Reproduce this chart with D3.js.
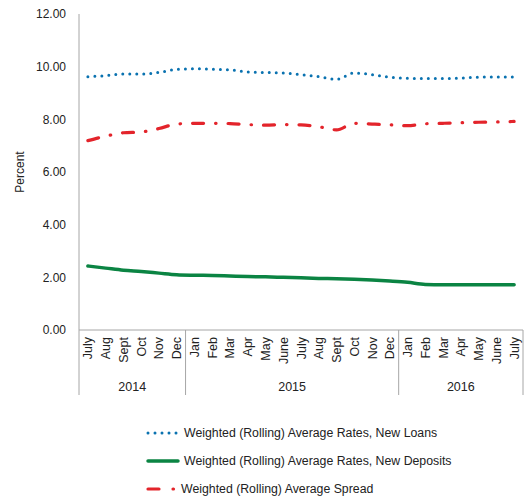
<!DOCTYPE html>
<html>
<head>
<meta charset="utf-8">
<script src="https://cdn.jsdelivr.net/npm/d3@7"></script>
<style>
body { margin: 0; background: #fff; }
svg text { font-family: "Liberation Sans", Arial, sans-serif; fill: #222; }
</style>
</head>
<body>
<svg id="chart" width="525" height="502"></svg>
<script>
const months = ["July","Aug","Sept","Oct","Nov","Dec",
  "Jan","Feb","Mar","Apr","May","June","July","Aug","Sept","Oct","Nov","Dec",
  "Jan","Feb","Mar","Apr","May","June","July"];
const years = [
  { label: "2014", start: 0, end: 6 },
  { label: "2015", start: 6, end: 18 },
  { label: "2016", start: 18, end: 25 }
];
const loans = [9.62, 9.66, 9.72, 9.72, 9.78, 9.9, 9.92, 9.9, 9.88, 9.8, 9.78, 9.76, 9.7,
  9.62, 9.52, 9.76, 9.7, 9.6, 9.56, 9.55, 9.55, 9.57, 9.6, 9.61, 9.61];
const deposits = [2.43, 2.35, 2.27, 2.22, 2.16, 2.1, 2.08, 2.07, 2.05, 2.03, 2.02, 2.0, 1.98,
  1.96, 1.95, 1.93, 1.9, 1.86, 1.81, 1.73, 1.72, 1.72, 1.72, 1.72, 1.72];
const spread = [7.19, 7.36, 7.49, 7.52, 7.65, 7.82, 7.85, 7.85, 7.84, 7.8, 7.78, 7.8, 7.79,
  7.72, 7.6, 7.85, 7.82, 7.79, 7.76, 7.83, 7.85, 7.87, 7.89, 7.9, 7.92];
const yTicks = [0, 2, 4, 6, 8, 10, 12];

const svg = d3.select("#chart");
const margin = { top: 14, left: 79, right: 2, bottom: 172 };
const width = 525, height = 502;
const axisGrey = "#a6a6a6";

const x = d3.scaleBand()
  .domain(d3.range(months.length))
  .range([margin.left, width - margin.right]);

const y = d3.scaleLinear()
  .domain([0, 12])
  .range([height - margin.bottom, margin.top]);

const baseY = y(0);

// y labels
svg.append("g")
  .selectAll("text")
  .data(yTicks)
  .join("text")
  .attr("x", margin.left - 13)
  .attr("y", d => y(d))
  .attr("dy", "0.35em")
  .attr("text-anchor", "end")
  .style("font-size", "12px")
  .text(d => d3.format(".2f")(d));

svg.append("text")
  .attr("transform", `translate(24,${(y(12) + baseY) / 2}) rotate(-90)`)
  .attr("text-anchor", "middle")
  .style("font-size", "12px")
  .text("Percent");

// axes lines
const axisBottom = baseY + 65;
svg.append("line")
  .attr("x1", margin.left).attr("x2", margin.left)
  .attr("y1", y(12)).attr("y2", axisBottom)
  .attr("stroke", axisGrey);
svg.append("line")
  .attr("x1", margin.left).attr("x2", width - margin.right)
  .attr("y1", baseY).attr("y2", baseY)
  .attr("stroke", axisGrey);

// year separators
svg.append("g")
  .selectAll("line")
  .data(years)
  .join("line")
  .attr("x1", d => x(d.end - 1) + x.bandwidth())
  .attr("x2", d => x(d.end - 1) + x.bandwidth())
  .attr("y1", baseY).attr("y2", axisBottom)
  .attr("stroke", axisGrey);

// month labels
svg.append("g")
  .selectAll("text")
  .data(months)
  .join("text")
  .attr("transform", (d, i) => `translate(${x(i) + x.bandwidth() / 2 + 4.5},${baseY + 7}) rotate(-90)`)
  .attr("text-anchor", "end")
  .style("font-size", "12.5px")
  .text(d => d);

// year labels
svg.append("g")
  .selectAll("text")
  .data(years)
  .join("text")
  .attr("x", d => (x(d.start) + x(d.end - 1) + x.bandwidth()) / 2)
  .attr("y", baseY + 61)
  .attr("text-anchor", "middle")
  .style("font-size", "12.5px")
  .text(d => d.label);

const line = d3.line()
  .x((d, i) => x(i) + x.bandwidth() / 2)
  .y(d => y(d))
  .curve(d3.curveMonotoneX);

const series = [
  { name: "Weighted (Rolling) Average Rates, New Loans", data: loans, color: "#0a72b0", width: 3, dash: "0,7" },
  { name: "Weighted (Rolling) Average Rates, New Deposits", data: deposits, color: "#0b8443", width: 3.5, dash: null },
  { name: "Weighted (Rolling) Average Spread", data: spread, color: "#e3242b", width: 3.2, dash: "11,12,0.5,12" }
];

series.forEach(s => {
  svg.append("path")
    .datum(s.data)
    .attr("fill", "none")
    .attr("stroke", s.color)
    .attr("stroke-width", s.width)
    .attr("stroke-linecap", "round")
    .attr("stroke-dasharray", s.dash)
    .attr("d", line);
});

// legend
const legend = svg.append("g")
  .selectAll("g")
  .data(series)
  .join("g")
  .attr("transform", (d, i) => `translate(147,${433 + i * 28})`);

legend.append("line")
  .attr("x1", 1).attr("x2", (d, i) => i === 2 ? 32 : 31)
  .attr("y1", 0).attr("y2", 0)
  .attr("stroke", d => d.color)
  .attr("stroke-width", d => d.width)
  .attr("stroke-linecap", "round")
  .attr("stroke-dasharray", (d, i) => i === 0 ? "0,7" : i === 2 ? "11,14,0.5,20" : null);

legend.append("text")
  .attr("x", (d, i) => i === 2 ? 34 : 37)
  .attr("y", 0)
  .attr("dy", "0.35em")
  .style("font-size", "12.3px")
  .text(d => d.name);
</script>
</body>
</html>
